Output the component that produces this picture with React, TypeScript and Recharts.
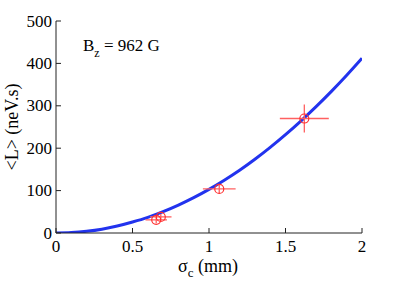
import React from "react";
import { ComposedChart, Line, Scatter, XAxis, YAxis, ErrorBar } from "recharts";

const xTicks = [0, 0.5, 1, 1.5, 2];
const yTicks = [0, 100, 200, 300, 400, 500];

// fitted curve, values
const curveX = [0, 0.1, 0.2, 0.3, 0.4, 0.5, 0.6, 0.7, 0.8, 0.9, 1.0, 1.1, 1.2, 1.3, 1.4, 1.5, 1.6, 1.7, 1.8, 1.9, 2.0];
const curveY = [0, 1, 4, 9, 16.5, 26, 37, 50.5, 66, 83.5, 103, 124.5, 148, 174, 202, 232, 264, 298, 334, 372, 412];

// measured points
const pointX = [0.655, 0.685, 1.067, 1.623];
const pointY = [31, 38, 104, 270];
const pointXErr = [0.07, 0.07, 0.107, 0.16];
const pointYErr = [8, 7, 11, 33];

const xLabel = "σ";
const xLabelSub = "c";
const xLabelUnit = " (mm)";
const yLabel = "<L> (neV.s)";
const annotMain = "B";
const annotSub = "z";
const annotRest = " = 962 G";

const curveData = curveX.map((x, i) => ({ x, y: curveY[i] }));
const pointData = pointX.map((x, i) => ({ x, y: pointY[i], ex: pointXErr[i], ey: pointYErr[i] }));

const FONT = "Liberation Serif";
const AXIS = "#222";

const BottomTick = (p: any) => (
  <g>
    <line x1={p.x} y1={p.y} x2={p.x} y2={p.y - 5} stroke={AXIS} strokeWidth={1} />
    <text x={p.x} y={p.y + 19} textAnchor="middle" fontFamily={FONT} fontSize={17} fill="#000">
      {p.payload.value}
    </text>
  </g>
);
const TopTick = (p: any) => (
  <line x1={p.x} y1={p.y} x2={p.x} y2={p.y + 5} stroke={AXIS} strokeWidth={1} />
);
const LeftTick = (p: any) => (
  <g>
    <line x1={p.x} y1={p.y} x2={p.x + 5} y2={p.y} stroke={AXIS} strokeWidth={1} />
    <text x={p.x - 4} y={p.y + 5.5} textAnchor="end" fontFamily={FONT} fontSize={17} fill="#000">
      {p.payload.value}
    </text>
  </g>
);
const RightTick = (p: any) => (
  <line x1={p.x} y1={p.y} x2={p.x - 5} y2={p.y} stroke={AXIS} strokeWidth={1} />
);

const OpenCircle = (p: any) => (
  <circle cx={p.cx} cy={p.cy} r={4.5} fill="none" stroke="#ff3030" strokeWidth={1.2} />
);

export default function App() {
  return (
    <div style={{ position: "absolute", left: 0, top: 0, width: 399, height: 283, background: "#fff" }}>
      <ComposedChart width={399} height={283} margin={{ top: 21, right: 37, bottom: 20, left: 0 }}>
        <XAxis
          xAxisId={0}
          dataKey="x"
          type="number"
          domain={[0, 2]}
          ticks={xTicks}
          allowDataOverflow
          stroke={AXIS}
          tickLine={false}
          tickSize={0}
          tickMargin={0}
          tick={<BottomTick />}
          height={30}
        />
        <XAxis
          xAxisId="top"
          orientation="top"
          dataKey="x"
          type="number"
          domain={[0, 2]}
          ticks={xTicks}
          stroke={AXIS}
          tickLine={false}
          tickSize={0}
          tickMargin={0}
          tick={<TopTick />}
          height={0}
        />
        <YAxis
          yAxisId={0}
          type="number"
          domain={[0, 500]}
          ticks={yTicks}
          allowDataOverflow
          stroke={AXIS}
          tickLine={false}
          tickSize={0}
          tickMargin={0}
          tick={<LeftTick />}
          width={56}
        />
        <YAxis
          yAxisId="right"
          orientation="right"
          type="number"
          domain={[0, 500]}
          ticks={yTicks}
          stroke={AXIS}
          tickLine={false}
          tickSize={0}
          tickMargin={0}
          tick={<RightTick />}
          width={0}
        />
        <Line
          data={curveData}
          dataKey="y"
          type="monotone"
          stroke="#2233ee"
          strokeWidth={3}
          dot={false}
          isAnimationActive={false}
        />
        <Scatter data={pointData} dataKey="y" shape={<OpenCircle />} isAnimationActive={false}>
          <ErrorBar dataKey="ex" direction="x" width={0} stroke="#ff6060" strokeWidth={1.3} />
          <ErrorBar dataKey="ey" direction="y" width={0} stroke="#ff6060" strokeWidth={1.3} />
        </Scatter>
      </ComposedChart>
      <svg
        width={399}
        height={283}
        style={{ position: "absolute", left: 0, top: 0, pointerEvents: "none" }}
      >
        <text x={178} y={272} fontFamily={FONT} fontSize={18} fill="#000">
          {xLabel}
          <tspan dy={5} fontSize={13}>{xLabelSub}</tspan>
          <tspan dy={-5}>{xLabelUnit}</tspan>
        </text>
        <text
          x={18}
          y={127}
          transform="rotate(-90 18 127)"
          textAnchor="middle"
          fontFamily={FONT}
          fontSize={18}
          fill="#000"
        >
          {yLabel}
        </text>
        <text x={83} y={51} fontFamily={FONT} fontSize={17} fill="#000">
          {annotMain}
          <tspan dy={6} fontSize={12}>{annotSub}</tspan>
          <tspan dy={-6}>{annotRest}</tspan>
        </text>
      </svg>
    </div>
  );
}
